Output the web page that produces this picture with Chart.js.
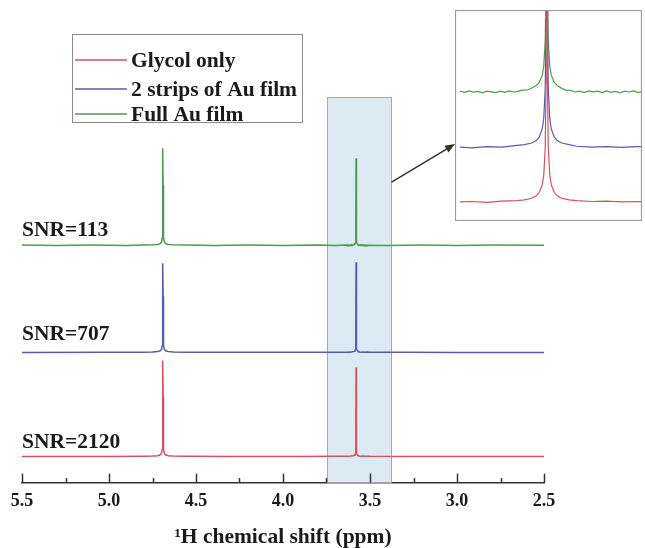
<!DOCTYPE html>
<html lang="en">
<head>
<meta charset="UTF-8">
<title>Glycol 1H NMR</title>
<script src="https://cdn.jsdelivr.net/npm/chart.js"></script>
<style>
  body { margin: 0; background: #fff; }
  #wrap { position: relative; width: 645px; height: 548px; }
  #inset { position: absolute; left: 455px; top: 10px; }
</style>
</head>
<body>
<div id="wrap">
  <canvas id="main" width="645" height="548"></canvas>
  <canvas id="inset" width="187" height="211"></canvas>
</div>
<script>
// spectra: [ppm, intensity a.u.], baseline = 0
const glycolOnly = [
  [5.50, 0.0], [5.00, 0.1], [4.80, 0.3], [4.75, 0.5], [4.72, 0.9], [4.705, 1.8],
  [4.698, 3.5], [4.695, 7], [4.693, 14], [4.692, 30], [4.691, 60], [4.690, 96],
  [4.689, 60], [4.688, 30], [4.687, 14], [4.685, 7], [4.682, 3.5], [4.675, 1.8],
  [4.66, 0.9], [4.63, 0.5], [4.55, 0.3], [4.30, 0.1], [3.90, 0.1], [3.70, 0.2],
  [3.638, 0.3], [3.63, 0.4], [3.62, 0.2], [3.61, 0.5], [3.60, 0.6], [3.595, 0.8],
  [3.59, 1.2], [3.587, 1.8], [3.585, 2.7], [3.583, 4.6], [3.582, 7], [3.581, 14],
  [3.5805, 30], [3.580, 89], [3.5795, 30], [3.579, 14], [3.578, 7], [3.577, 4.6],
  [3.575, 2.7], [3.573, 1.8], [3.570, 1.2], [3.565, 0.8], [3.56, 0.6], [3.55, 0.4],
  [3.54, 0.5], [3.53, 0.3], [3.52, 0.4], [3.50, 0.3], [3.30, 0.1], [3.00, 0.0], [2.50, 0.0]
];
const twoStrips = [
  [5.50, 0.0], [5.00, 0.1], [4.80, 0.3], [4.75, 0.5], [4.72, 0.9], [4.705, 1.7],
  [4.698, 3.3], [4.695, 6.5], [4.693, 13], [4.692, 28], [4.691, 56], [4.690, 89],
  [4.689, 56], [4.688, 28], [4.687, 13], [4.685, 6.5], [4.682, 3.3], [4.675, 1.7],
  [4.66, 0.9], [4.63, 0.5], [4.55, 0.3], [4.30, 0.1], [3.90, 0.1], [3.70, 0.2],
  [3.638, 0.3], [3.63, 0.1], [3.62, 0.4], [3.61, 0.3], [3.60, 0.7], [3.595, 0.9],
  [3.59, 1.3], [3.587, 1.9], [3.585, 2.8], [3.583, 4.8], [3.582, 7.5], [3.581, 15],
  [3.5805, 32], [3.580, 90], [3.5795, 32], [3.579, 15], [3.578, 7.5], [3.577, 4.8],
  [3.575, 2.8], [3.573, 1.9], [3.570, 1.3], [3.565, 0.9], [3.56, 0.5], [3.55, 0.3],
  [3.54, 0.4], [3.53, 0.2], [3.52, 0.4], [3.50, 0.3], [3.30, 0.1], [3.00, 0.0], [2.50, 0.0]
];
const fullFilm = [
  [5.50, 0.2], [5.30, -0.1], [5.10, 0.2], [4.90, -0.1], [4.80, 0.2], [4.75, 0.5],
  [4.72, 0.9], [4.705, 1.8], [4.698, 3.4], [4.695, 7], [4.693, 14], [4.692, 30],
  [4.691, 60], [4.690, 97], [4.689, 60], [4.688, 30], [4.687, 14], [4.685, 7],
  [4.682, 3.4], [4.675, 1.8], [4.66, 0.9], [4.63, 0.5], [4.55, 0.2], [4.40, -0.1],
  [4.20, 0.2], [4.00, -0.1], [3.80, 0.2], [3.70, -0.1],
  [3.638, 0.2], [3.635, -0.1], [3.632, 0.25], [3.629, -0.05], [3.626, 0.15], [3.623, -0.2],
  [3.620, 0.2], [3.617, 0.05], [3.614, -0.15], [3.611, 0.2], [3.608, -0.1], [3.605, 0.25],
  [3.602, 0.0], [3.599, 0.2], [3.596, 0.45], [3.593, 0.5], [3.590, 1.0], [3.587, 1.6],
  [3.585, 2.4], [3.583, 4.2], [3.582, 6.5], [3.581, 13], [3.5805, 28], [3.580, 87],
  [3.5795, 28], [3.579, 13], [3.578, 6.5], [3.577, 4.2], [3.575, 2.4], [3.573, 1.6],
  [3.570, 0.9], [3.567, 0.4], [3.564, 0.4], [3.561, 0.0], [3.558, 0.2], [3.555, -0.15],
  [3.552, 0.25], [3.549, 0.05], [3.546, 0.2], [3.543, -0.15], [3.540, 0.25], [3.537, -0.1],
  [3.534, 0.15], [3.531, -0.2], [3.528, 0.2], [3.525, 0.0], [3.522, 0.25], [3.519, -0.15],
  [3.516, 0.15], [3.40, -0.1], [3.20, 0.2], [3.00, -0.1], [2.80, 0.2], [2.50, 0.0]
];

const seriesNames = ['Glycol only', '2 strips of Au film', 'Full Au film'];
const seriesData = [glycolOnly, twoStrips, fullFilm];
const snrLabels = ['SNR=2120', 'SNR=707', 'SNR=113'];
const xTicks = [5.5, 5.0, 4.5, 4.0, 3.5, 3.0, 2.5];
const zoomRange = [3.376, 3.746];   // shaded region, ppm

// display settings
const colors = ['#d2525e', '#5a5aab', '#4e9a4e'];
const mainOffsets = [26, 130, 237];     // vertical stacking, main plot
const insetOffsets = [0, 13.65, 27.65]; // vertical stacking, inset
const snrGap = [9, 12, 9];
const serif = '"Liberation Serif", "Times New Roman", serif';

function buildSets(offsets, width) {
  return seriesData.map((s, i) => ({
    label: seriesNames[i],
    data: s.map(p => ({ x: p[0], y: p[1] + offsets[i] })),
    borderColor: colors[i],
    borderWidth: width,
    pointRadius: 0,
    tension: 0
  }));
}

const mainDecor = {
  id: 'mainDecor',
  beforeDatasetsDraw(chart) {
    const { ctx, chartArea, scales: { x, y } } = chart;
    const x1 = x.getPixelForValue(zoomRange[1]);
    const x2 = x.getPixelForValue(zoomRange[0]);
    const yTop = y.getPixelForValue(385);
    ctx.save();
    ctx.fillStyle = '#dcebf3';
    ctx.fillRect(x1, yTop, x2 - x1, chartArea.bottom - yTop);
    ctx.strokeStyle = '#d9949b';
    ctx.lineWidth = 1;
    ctx.strokeRect(Math.round(x1) + 0.5, Math.round(yTop) + 0.5, Math.round(x2 - x1), chartArea.bottom - Math.round(yTop));
    ctx.restore();
  },
  afterDraw(chart) {
    const { ctx, chartArea, scales: { x, y } } = chart;
    ctx.save();
    // inward ticks
    ctx.strokeStyle = '#333';
    ctx.lineWidth = 1.5;
    x.ticks.forEach(t => {
      const px = Math.round(x.getPixelForValue(t.value)) + 0.5;
      const major = Math.abs(t.value * 2 - Math.round(t.value * 2)) < 1e-6;
      ctx.beginPath();
      ctx.moveTo(px, chartArea.bottom);
      ctx.lineTo(px, chartArea.bottom - (major ? 9 : 4.5));
      ctx.stroke();
    });
    // SNR labels
    ctx.fillStyle = '#1a1a1a';
    ctx.font = 'bold 21.5px ' + serif;
    ctx.textBaseline = 'alphabetic';
    ctx.textAlign = 'left';
    snrLabels.forEach((s, i) => {
      ctx.fillText(s, x.getPixelForValue(5.5), y.getPixelForValue(mainOffsets[i] + snrGap[i]));
    });
    // legend
    ctx.strokeStyle = '#8a8a8a';
    ctx.lineWidth = 1;
    ctx.strokeRect(72.5, 34.5, 230, 88);
    ctx.textBaseline = 'middle';
    [60, 89, 114].forEach((ly, i) => {
      ctx.strokeStyle = colors[i];
      ctx.lineWidth = 1.5;
      ctx.beginPath();
      ctx.moveTo(75, ly);
      ctx.lineTo(127, ly);
      ctx.stroke();
      ctx.fillText(chart.data.datasets[i].label, 131, ly + 1);
    });
    // arrow to inset
    const sx = x.getPixelForValue(zoomRange[0]), sy = y.getPixelForValue(300);
    const ex = 455, ey = 144;
    const ang = Math.atan2(ey - sy, ex - sx);
    ctx.strokeStyle = '#333';
    ctx.fillStyle = '#333';
    ctx.lineWidth = 1.5;
    ctx.beginPath();
    ctx.moveTo(sx, sy);
    ctx.lineTo(ex - 6 * Math.cos(ang), ey - 6 * Math.sin(ang));
    ctx.stroke();
    ctx.beginPath();
    ctx.moveTo(ex, ey);
    ctx.lineTo(ex - 10 * Math.cos(ang) + 4 * Math.sin(ang), ey - 10 * Math.sin(ang) - 4 * Math.cos(ang));
    ctx.lineTo(ex - 10 * Math.cos(ang) - 4 * Math.sin(ang), ey - 10 * Math.sin(ang) + 4 * Math.cos(ang));
    ctx.closePath();
    ctx.fill();
    ctx.restore();
  }
};

new Chart(document.getElementById('main'), {
  type: 'line',
  data: { datasets: buildSets(mainOffsets, 1.5) },
  options: {
    responsive: false,
    animation: false,
    layout: { padding: { left: 22, right: 101, top: 20, bottom: 0 } },
    plugins: { legend: { display: false }, tooltip: { enabled: false } },
    scales: {
      x: {
        type: 'linear', reverse: true, min: 2.5, max: 5.5,
        grid: { display: true, drawOnChartArea: false, drawTicks: false, tickLength: 0 },
        border: { display: true, color: '#333', width: 1.5 },
        ticks: {
          stepSize: 0.25, padding: 8, autoSkip: false, maxRotation: 0, color: '#1a1a1a',
          font: { family: serif, weight: 'bold', size: 18 },
          callback: v => xTicks.some(t => Math.abs(t - v) < 1e-6) ? v.toFixed(1) : ''
        },
        title: {
          display: true, text: '¹H chemical shift (ppm)', color: '#1a1a1a',
          font: { family: serif, weight: 'bold', size: 21.5 },
          padding: { top: 4, bottom: -2 }
        }
      },
      y: { display: false, min: 0, max: 462 }
    }
  },
  plugins: [mainDecor]
});

const insetFrame = {
  id: 'insetFrame',
  beforeDraw(chart) {
    const { ctx, width, height } = chart;
    ctx.save();
    ctx.fillStyle = '#fff';
    ctx.fillRect(0, 0, width, height);
    ctx.restore();
  },
  afterDraw(chart) {
    const { ctx, width, height } = chart;
    ctx.save();
    ctx.strokeStyle = '#9a9a9a';
    ctx.lineWidth = 1.2;
    ctx.strokeRect(0.5, 0.5, width - 1, height - 1);
    ctx.restore();
  }
};

new Chart(document.getElementById('inset'), {
  type: 'line',
  data: { datasets: buildSets(insetOffsets, 1.2) },
  options: {
    responsive: false,
    animation: false,
    layout: { padding: { left: 5, right: 1, top: 1, bottom: 1 } },
    plugins: { legend: { display: false }, tooltip: { enabled: false } },
    scales: {
      x: { type: 'linear', reverse: true, min: 3.517, max: 3.638, display: false },
      y: { display: false, min: -4.2, max: 47.8 }
    }
  },
  plugins: [insetFrame]
});
</script>
</body>
</html>
